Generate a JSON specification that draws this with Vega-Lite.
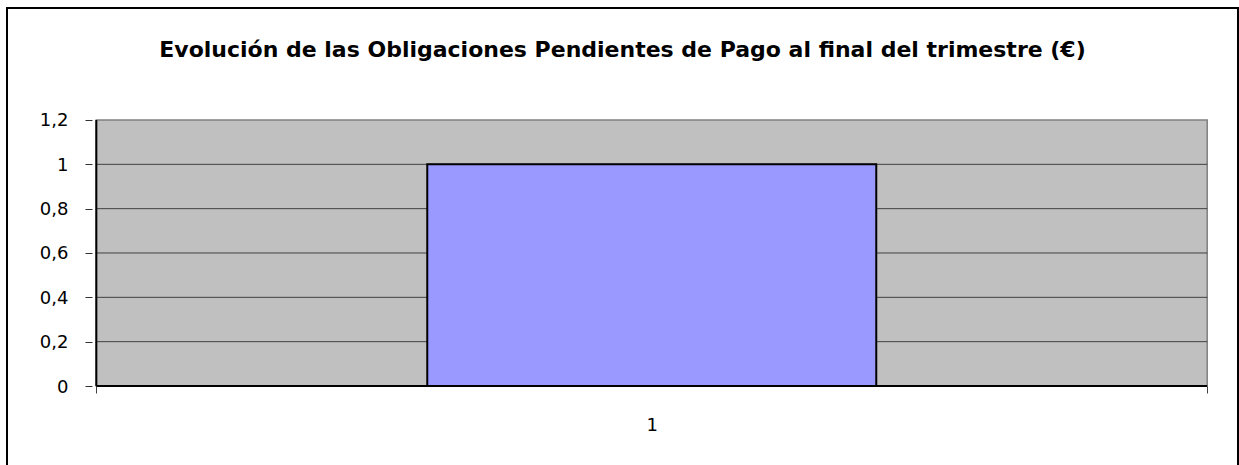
{
  "$schema": "https://vega.github.io/schema/vega-lite/v6.json",
  "width": 1231,
  "height": 458,
  "autosize": {"type": "none"},
  "padding": {"left": 7, "top": 8, "right": 1, "bottom": 0},
  "background": "white",
  "config": {
    "view": {"stroke": "black", "strokeWidth": 2, "fill": "white"},
    "font": "DejaVu Sans"
  },
  "title": {
    "text": "Evolución de las Obligaciones Pendientes de Pago al final del trimestre (€)",
    "font": "DejaVu Sans",
    "fontSize": 22,
    "fontWeight": "bold",
    "color": "black",
    "anchor": "middle",
    "frame": "group",
    "offset": -54
  },
  "data": {"values": [{"category": 1, "value": 1}]},
  "layer": [
    {
      "mark": {"type": "rect", "fill": "#C0C0C0", "stroke": "#808080", "strokeWidth": 1.5},
      "encoding": {
        "x": {
          "datum": 0.5,
          "type": "quantitative",
          "scale": {"domain": [0.424107, 1.523214], "nice": false, "zero": false},
          "axis": {
            "values": [0.5, 1, 1.5],
            "labelExpr": "datum.value == 1 ? '1' : ''",
            "tickOpacity": {"condition": {"test": "datum.value == 1", "value": 0}, "value": 1},
            "domain": false,
            "grid": false,
            "offset": -80,
            "tickSize": 7,
            "tickColor": "#404040",
            "labelFontSize": 18,
            "labelPadding": 23,
            "labelColor": "black",
            "labelFont": "DejaVu Sans",
            "labelFlush": false,
            "labelOverlap": false,
            "title": null
          }
        },
        "x2": {"datum": 1.5},
        "y": {
          "datum": 0,
          "type": "quantitative",
          "scale": {"domain": [-0.3609, 1.70526], "nice": false, "zero": false},
          "axis": {
            "values": [0, 0.2, 0.4, 0.6, 0.8, 1, 1.2],
            "labelExpr": "replace(format(datum.value, '~g'), '.', ',')",
            "domain": false,
            "grid": false,
            "offset": -85,
            "tickSize": 7,
            "tickColor": "#303030",
            "labelFontSize": 18,
            "labelPadding": 17,
            "labelOffset": 1,
            "labelColor": "black",
            "labelFont": "DejaVu Sans",
            "labelFlush": false,
            "labelOverlap": false,
            "title": null
          }
        },
        "y2": {"datum": 1.2}
      }
    },
    {
      "data": {"values": [{"grid": 0.2}, {"grid": 0.4}, {"grid": 0.6}, {"grid": 0.8}, {"grid": 1}]},
      "mark": {"type": "rule", "color": "#404040", "strokeWidth": 1},
      "encoding": {
        "y": {"field": "grid", "type": "quantitative"},
        "x": {"datum": 0.5},
        "x2": {"datum": 1.5}
      }
    },
    {
      "mark": {"type": "bar", "fill": "#9999FF", "stroke": "black", "strokeWidth": 2, "width": 449},
      "encoding": {
        "x": {"field": "category", "type": "quantitative"},
        "y": {"field": "value", "type": "quantitative"},
        "y2": {"datum": 0}
      }
    },
    {
      "mark": {"type": "rule", "color": "black", "strokeWidth": 2},
      "encoding": {"x": {"datum": 0.5}, "x2": {"datum": 1.5}, "y": {"datum": 0}}
    },
    {
      "mark": {"type": "rule", "color": "black", "strokeWidth": 2},
      "encoding": {"x": {"datum": 0.5}, "y": {"datum": 0}, "y2": {"datum": 1.2}}
    }
  ]
}
